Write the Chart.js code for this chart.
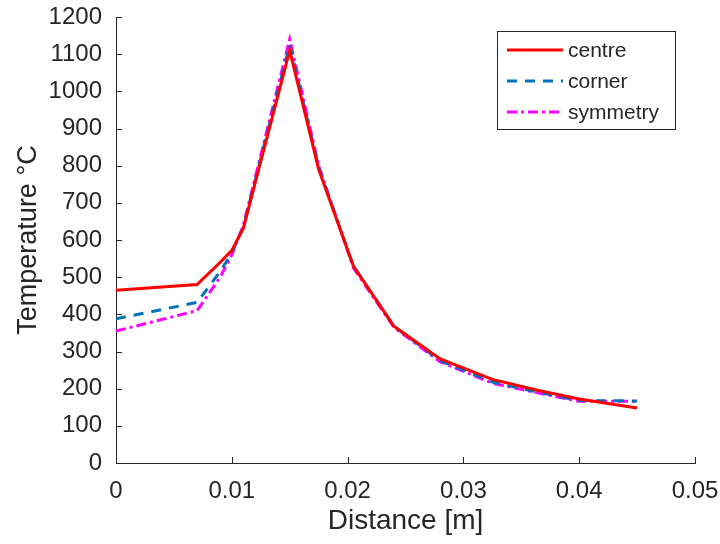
<!DOCTYPE html>
<html>
<head>
<meta charset="utf-8">
<script src="https://cdn.jsdelivr.net/npm/chart.js@4"></script>
<style>
  body { margin: 0; background: #fff; }
  #wrap { width: 720px; height: 544px; }
</style>
</head>
<body>
<div id="wrap"><canvas id="chart" width="720" height="544"></canvas></div>
<script>
// values
const distance = [0, 0.007, 0.009, 0.010, 0.011, 0.015, 0.0175, 0.0205, 0.024, 0.028, 0.0325, 0.0365, 0.040, 0.045];
const centre   = [465, 480, 540, 572, 632, 1110, 790, 530, 368, 280, 225, 195, 172, 148];
const corner   = [388, 432, 515, 565, 635, 1125, 795, 530, 368, 275, 218, 190, 168, 167];
const symmetry = [355, 410, 500, 560, 640, 1140, 800, 525, 365, 272, 215, 188, 166, 166];
const xTicks = [0, 0.01, 0.02, 0.03, 0.04, 0.05];
const seriesNames = ['centre', 'corner', 'symmetry'];

const textColor = '#262626';
const axisColor = '#262626';
const fontFamily = '"Liberation Sans", Arial, Helvetica, sans-serif';

function toPoints(ys) {
    return distance.map((d, i) => ({ x: d, y: ys[i] }));
}

// MATLAB style inward ticks on left and bottom axes
const inwardTicks = {
    id: 'inwardTicks',
    afterDraw(chart) {
        const ctx = chart.ctx;
        const area = chart.chartArea;
        const xs = chart.scales.x, ys = chart.scales.y;
        ctx.save();
        ctx.strokeStyle = axisColor;
        ctx.lineWidth = 1;
        ctx.beginPath();
        xs.ticks.forEach(t => {
            const px = Math.round(xs.getPixelForValue(t.value)) + 0.5;
            ctx.moveTo(px, area.bottom);
            ctx.lineTo(px, area.bottom - 6);
        });
        ys.ticks.forEach(t => {
            const py = Math.round(ys.getPixelForValue(t.value)) + 0.5;
            ctx.moveTo(area.left, py);
            ctx.lineTo(area.left + 6, py);
        });
        ctx.stroke();
        ctx.restore();
    }
};

// legend box in the upper right corner
const boxLegend = {
    id: 'boxLegend',
    afterDraw(chart) {
        const ctx = chart.ctx;
        const left = 497, top = 31, w = 178, h = 98;
        ctx.save();
        ctx.fillStyle = '#fff';
        ctx.fillRect(left, top, w, h);
        ctx.strokeStyle = axisColor;
        ctx.lineWidth = 1;
        ctx.strokeRect(left + 0.5, top + 0.5, w, h);
        ctx.font = '21px ' + fontFamily;
        ctx.textBaseline = 'middle';
        chart.data.datasets.forEach((ds, i) => {
            const y = top + 19 + i * 31;
            ctx.strokeStyle = ds.borderColor;
            ctx.lineWidth = ds.borderWidth;
            ctx.setLineDash(ds.borderDash || []);
            ctx.beginPath();
            ctx.moveTo(left + 10, y);
            ctx.lineTo(left + 66, y);
            ctx.stroke();
            ctx.setLineDash([]);
            ctx.fillStyle = textColor;
            ctx.fillText(ds.label, left + 71, y + 1);
        });
        ctx.restore();
    }
};

new Chart(document.getElementById('chart'), {
    type: 'line',
    data: {
        datasets: [
            {
                label: seriesNames[0],
                data: toPoints(centre),
                borderColor: '#FF0000',
                borderWidth: 3
            },
            {
                label: seriesNames[1],
                data: toPoints(corner),
                borderColor: '#0072BD',
                borderWidth: 3,
                borderDash: [10, 8]
            },
            {
                label: seriesNames[2],
                data: toPoints(symmetry),
                borderColor: '#FF00FF',
                borderWidth: 3,
                borderDash: [10, 4, 3, 4]
            }
        ]
    },
    options: {
        responsive: false,
        animation: false,
        elements: { point: { radius: 0 }, line: { tension: 0 } },
        layout: { padding: { top: 17, right: 25, left: 0, bottom: 0 } },
        plugins: {
            legend: { display: false },
            tooltip: { enabled: false }
        },
        scales: {
            x: {
                type: 'linear',
                min: 0,
                max: 0.05,
                afterBuildTicks: scale => {
                    scale.ticks = xTicks.map(v => ({ value: v }));
                },
                afterFit: scale => {
                    scale.height = 81;
                    scale.paddingLeft = 0;
                    scale.paddingRight = 0;
                },
                border: { display: true, color: axisColor, width: 1 },
                grid: { display: false },
                ticks: {
                    color: textColor,
                    font: { size: 24, family: fontFamily },
                    padding: 6,
                    maxRotation: 0,
                    callback: v => String(v)
                },
                title: {
                    display: true,
                    text: 'Distance [m]',
                    color: textColor,
                    font: { size: 28, family: fontFamily },
                    padding: { top: 0, bottom: 6 }
                }
            },
            y: {
                min: 0,
                max: 1200,
                afterFit: scale => {
                    scale.width = 116;
                    scale.paddingTop = 0;
                    scale.paddingBottom = 0;
                },
                border: { display: true, color: axisColor, width: 1 },
                grid: { display: false },
                ticks: {
                    stepSize: 100,
                    color: textColor,
                    font: { size: 24, family: fontFamily },
                    padding: 6,
                    callback: v => String(v)
                },
                title: {
                    display: true,
                    text: 'Temperature \u00B0C',
                    color: textColor,
                    font: { size: 27, family: fontFamily },
                    padding: { top: 12, bottom: 0 }
                }
            }
        }
    },
    plugins: [inwardTicks, boxLegend]
});
</script>
</body>
</html>
